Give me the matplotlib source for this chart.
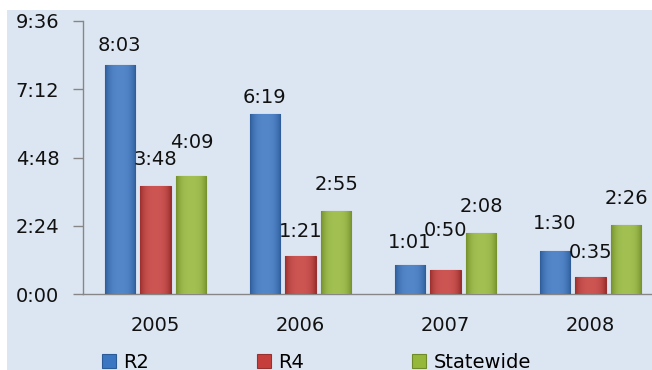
import matplotlib.pyplot as plt
import matplotlib.colors as mcolors
import numpy as np
from matplotlib.patches import Rectangle
from matplotlib.ticker import FuncFormatter

years = ["2005", "2006", "2007", "2008"]
series = ["R2", "R4", "Statewide"]
# durations in minutes (H:MM)
r2 = [483, 379, 61, 90]
r4 = [228, 81, 50, 35]
statewide = [249, 175, 128, 146]

# label offsets above bar tops (points), as placed in the original
label_dy = [[14, 12, 16, 20], [19, 17, 29, 18], [24, 19, 19, 19]]

colors = ["#3b76c2", "#c63e3b", "#95b83a"]
edges = ["#2a5a98", "#983030", "#6f8a28"]
bg = "#dce6f2"


def hmm(v, pos=None):
    v = int(round(v))
    return f"{v // 60}:{v % 60:02d}"


def gradient(c):
    base = np.array(mcolors.to_rgb(c))
    t = np.linspace(-1, 1, 32)
    k = 1 - np.abs(t) ** 3
    light = base + (1 - base) * 0.12
    dark = base * 0.8
    rows = dark[None, :] + (light - dark)[None, :] * k[:, None]
    return rows[None, :, :]


plt.rcParams["font.family"] = "DejaVu Sans"

fig = plt.figure(figsize=(6.52, 3.70), dpi=100)
fig.patches.append(Rectangle((7 / 652, 0), 1, (370 - 10) / 370,
                             transform=fig.transFigure, facecolor=bg,
                             edgecolor="none", zorder=-10))

ax = fig.add_axes([83 / 652, 76 / 370, 569 / 652, 273 / 370])
ax.set_facecolor("none")

x = np.arange(len(years))
step = 0.248
width = 0.207
for i, (name, vals) in enumerate(zip(series, [r2, r4, statewide])):
    bars = ax.bar(x + (i - 1) * step, vals, width=width, color=colors[i],
                  edgecolor=edges[i], linewidth=0.8, label=name, zorder=3)
    grad = gradient(colors[i])
    for j, (b, v) in enumerate(zip(bars, vals)):
        x0 = b.get_x()
        im = ax.imshow(grad, extent=(x0, x0 + b.get_width(), 0, v),
                       aspect="auto", zorder=3.5, interpolation="bilinear")
        im.set_clip_path(b)
        ax.annotate(hmm(v), (x0 + b.get_width() / 2, v),
                    xytext=(0, label_dy[i][j]), textcoords="offset points",
                    ha="center", va="center", fontsize=14, color="#111111",
                    zorder=4)

ax.set_xlim(-0.5, -0.5 + 569 / 145)
ax.set_ylim(0, 576)
ax.set_yticks([0, 144, 288, 432, 576])
ax.yaxis.set_major_formatter(FuncFormatter(hmm))
ax.set_xticks(x)
ax.set_xticklabels(years)

for s in ["top", "right"]:
    ax.spines[s].set_visible(False)
for s in ["left", "bottom"]:
    ax.spines[s].set_color("#868686")
    ax.spines[s].set_linewidth(1.0)

ax.tick_params(axis="y", length=7, width=1, color="#868686", pad=10,
               labelsize=14, labelcolor="#111111")
ax.tick_params(axis="x", length=0, pad=16, labelsize=14, labelcolor="#111111")

fig.legend(loc="center left", bbox_to_anchor=(102 / 652, 8 / 370), ncol=3,
           frameon=False, fontsize=14, handlelength=0.7, handleheight=0.7,
           handletextpad=0.4, columnspacing=5.55, borderpad=0, borderaxespad=0)

fig.savefig("out.png", dpi=100, facecolor="white")
